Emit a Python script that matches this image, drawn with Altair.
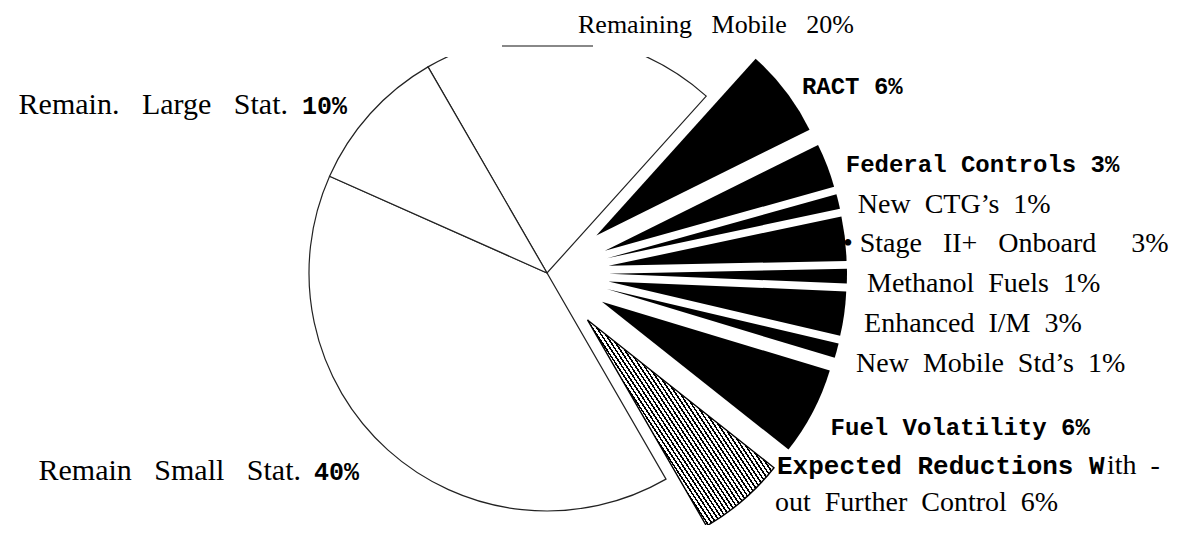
import math
import altair as alt
import pandas as pd

# ---- data ----
categories = ["Remaining Mobile", "RACT", "Federal Controls", "New CTG’s", "Stage II+ Onboard",
              "Methanol Fuels", "Enhanced I/M", "New Mobile Std’s", "Fuel Volatility",
              "Expected Reductions Without Further Control", "Remain Small Stat.", "Remain. Large Stat."]
shares = [20, 6, 3, 1, 3, 1, 3, 1, 6, 6, 40, 10]
groups = ["remaining", "control", "control", "control", "control", "control", "control", "control",
          "control", "expected", "remaining", "remaining"]

bold_right = ["RACT", "Federal Controls", "Fuel Volatility"]
serif_right = ["New CTG’s", "Methanol Fuels", "Enhanced I/M", "New Mobile Std’s"]

df = pd.DataFrame({"order": list(range(len(categories))), "label": categories,
                   "value": shares, "group": groups})

# ---- layout / style ----
TAU = 2 * math.pi
A0 = TAU - math.pi / 6          # first slice starts at -30 degrees
CX, CY = 539, 216               # pie centre inside the view
R = 238
EXPLODE = 62
LABEL_R = 320
SERIF = "Liberation Serif"
BOLD = "Liberation Mono"
NB = "\u00a0"

base = (
    alt.Chart(df)
    .transform_window(cum="sum(value)", sort=[alt.SortField("order")], frame=[None, 0])
    .transform_calculate(start="datum.cum - datum.value")
    .transform_calculate(mid="datum.cum - datum.value / 2")
    .transform_calculate(ang=f"{A0} + datum.mid / 100 * {TAU}")
    .transform_calculate(shift=f"datum.group == 'remaining' ? 0 : {EXPLODE}")
    .transform_calculate(px=f"{CX} + datum.shift * sin(datum.ang)")
    .transform_calculate(py=f"{CY} - datum.shift * cos(datum.ang)")
)

theta_scale = alt.Scale(domain=[0, 100], range=[A0, A0 + TAU])
arc_enc = dict(
    theta=alt.Theta("start:Q", scale=theta_scale, stack=False),
    theta2=alt.Theta2("cum"),
    x=alt.X("px:Q", scale=None, axis=None),
    y=alt.Y("py:Q", scale=None, axis=None),
)

white = base.transform_filter("datum.group == 'remaining'").mark_arc(
    radius=R, fill="white", stroke="#222", strokeWidth=1.2, clip=True
).encode(**arc_enc)

black = base.transform_filter("datum.group == 'control'").mark_arc(
    radius=R, fill="black", strokeWidth=0
).encode(**arc_enc)

# hatch fill as a striped linear gradient
N = 72
stops = []
for i in range(N):
    a = i / N
    b = (i + 0.42) / N
    c = (i + 1) / N
    stops += [{"offset": a, "color": "#000"}, {"offset": b, "color": "#000"},
              {"offset": b, "color": "white"}, {"offset": c, "color": "white"}]
hatch_fill = {"gradient": "linear", "x1": 0, "y1": 1, "x2": 1.13, "y2": 0.18, "stops": stops}

hatch = base.transform_filter("datum.group == 'expected'").mark_arc(
    radius=R, fill=hatch_fill, stroke="black", strokeWidth=1.4
).encode(**arc_enc)

polar = dict(theta=alt.Theta("mid:Q", scale=theta_scale, stack=False),
             x=alt.value(CX), y=alt.value(CY), text="txt:N")

sp2 = f"replace(datum.label, regexp(' ', 'g'), '{NB}{NB}')"
sp3 = f"replace(datum.label, regexp(' ', 'g'), '{NB}{NB}{NB}')"

lab_bold = base.transform_filter(alt.FieldOneOfPredicate(field="label", oneOf=bold_right)).transform_calculate(
    txt="datum.label + ' ' + datum.value + '%'"
).mark_text(radius=LABEL_R, align="left", baseline="middle", dy=7, font=BOLD,
            fontWeight="bold", fontSize=24, color="black").encode(**polar)

lab_serif = base.transform_filter(alt.FieldOneOfPredicate(field="label", oneOf=serif_right)).transform_calculate(
    txt=f"{sp2} + '{NB}{NB}' + datum.value + '%'"
).mark_text(radius=LABEL_R, align="left", baseline="middle", dy=8, font=SERIF,
            fontSize=28, color="black").encode(**polar)

lab_stage = base.transform_filter("datum.label == 'Stage II+ Onboard'").transform_calculate(
    txt=f"'•{NB}' + {sp3} + '{NB}{NB}{NB}{NB}{NB}' + datum.value + '%'"
).mark_text(radius=LABEL_R, align="left", baseline="middle", dy=8, dx=-22, font=SERIF,
            fontSize=28, color="black").encode(**polar)


def fixed_text(label, expr, x, y, align, font, size, weight="normal", baseline="alphabetic"):
    return base.transform_filter(f"datum.label == '{label}'").transform_calculate(txt=expr).mark_text(
        align=align, baseline=baseline, font=font, fontSize=size, fontWeight=weight, color="black"
    ).encode(x=alt.value(x), y=alt.value(y), text="txt:N")


t_mobile = fixed_text("Remaining Mobile", f"{sp3} + '{NB}{NB}{NB}' + datum.value + '%'", 570, -45, "left",
                      SERIF, 26, baseline="top")
t_large = fixed_text("Remain. Large Stat.", sp3, 280, 57, "right", SERIF, 30)
t_large_v = fixed_text("Remain. Large Stat.", "datum.value + '%'", 294, 57, "left", BOLD, 25, "bold")
t_small = fixed_text("Remain Small Stat.", sp3, 293, 423, "right", SERIF, 30)
t_small_v = fixed_text("Remain Small Stat.", "datum.value + '%'", 306, 423, "left", BOLD, 25, "bold")
exp_lab = "Expected Reductions Without Further Control"
t_exp1 = fixed_text(exp_lab, "'Expected Reductions W'", 769, 417, "left", BOLD, 26, "bold")
t_exp1b = fixed_text(exp_lab, f"'ith{NB}{NB}-'", 1099, 417, "left", SERIF, 28)
t_exp2 = fixed_text(exp_lab, f"'out{NB}{NB}Further{NB}{NB}Control{NB}{NB}' + datum.value + '%'", 767, 454, "left", SERIF, 28)

scan_line = alt.Chart(df).mark_rule(color="#888", strokeWidth=2).encode(
    x=alt.value(494), x2=alt.value(585), y=alt.value(-11)
).transform_filter("datum.order == 0")

chart = alt.layer(
    white, black, hatch, lab_bold, lab_serif, lab_stage,
    t_mobile, t_large, t_large_v, t_small, t_small_v, t_exp1, t_exp1b, t_exp2, scan_line
).properties(
    width=1177, height=468,
    autosize=alt.AutoSizeParams(type="none"),
    padding={"left": 0, "top": 49, "right": 0, "bottom": 0},
).configure_view(strokeWidth=0)

chart.save("out.html", embed_options={"renderer": "svg", "actions": False})
